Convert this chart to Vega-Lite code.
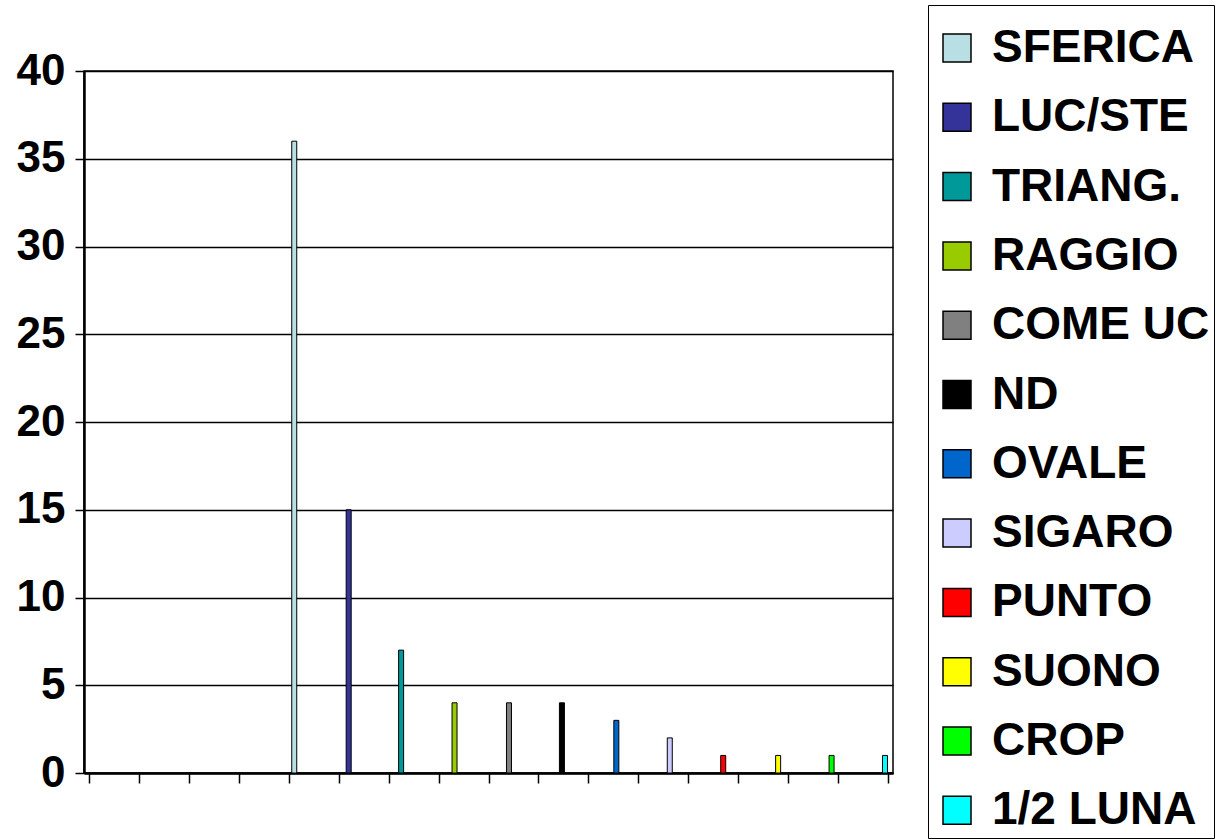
{
  "$schema": "https://vega.github.io/schema/vega-lite/v6.json",
  "width": 809,
  "height": 702,
  "autosize": {"type": "none"},
  "padding": {"left": 84, "top": 71, "right": 328, "bottom": 66},
  "background": "white",
  "config": {
    "font": "Liberation Sans",
    "view": {"stroke": "black", "strokeWidth": 1.5},
    "axis": {"domainColor": "black", "tickColor": "black", "gridColor": "black", "labelColor": "black"},
    "legend": {"strokeColor": "black", "fillColor": "white"}
  },
  "data": {
    "values": [
      {"forma": "SFERICA", "pos": 4.11, "n": 36},
      {"forma": "LUC/STE", "pos": 5.2, "n": 15},
      {"forma": "TRIANG.", "pos": 6.25, "n": 7},
      {"forma": "RAGGIO", "pos": 7.32, "n": 4},
      {"forma": "COME UC", "pos": 8.41, "n": 4},
      {"forma": "ND", "pos": 9.47, "n": 4},
      {"forma": "OVALE", "pos": 10.56, "n": 3},
      {"forma": "SIGARO", "pos": 11.63, "n": 2},
      {"forma": "PUNTO", "pos": 12.7, "n": 1},
      {"forma": "SUONO", "pos": 13.8, "n": 1},
      {"forma": "CROP", "pos": 14.87, "n": 1},
      {"forma": "1/2 LUNA", "pos": 15.94, "n": 1}
    ]
  },
  "mark": {"type": "bar", "width": 5, "stroke": "black", "strokeWidth": 1},
  "encoding": {
    "x": {
      "field": "pos", "type": "quantitative",
      "scale": {"domain": [0, 16], "nice": false, "zero": false},
      "axis": {
        "title": null, "labels": false, "grid": false,
        "values": [0,1,2,3,4,5,6,7,8,9,10,11,12,13,14,15,16],
        "tickSize": 10, "tickWidth": 1.5, "domainWidth": 2.5
      }
    },
    "y": {
      "field": "n", "type": "quantitative",
      "scale": {"domain": [0, 40], "nice": false},
      "axis": {
        "title": null, "values": [0,5,10,15,20,25,30,35,40],
        "grid": true, "gridWidth": 1.5, "tickSize": 9, "tickWidth": 1.5, "domainWidth": 2.5,
        "labelFontSize": 44, "labelFontWeight": "bold", "labelPadding": 10
      }
    },
    "color": {
      "field": "forma", "type": "nominal",
      "scale": {
        "domain": ["SFERICA","LUC/STE","TRIANG.","RAGGIO","COME UC","ND","OVALE","SIGARO","PUNTO","SUONO","CROP","1/2 LUNA"],
        "range": ["#B8E0E4","#333399","#009999","#99CC00","#808080","#000000","#0066CC","#CCCCFF","#FF0000","#FFFF00","#00FF00","#00FFFF"]
      },
      "legend": {
        "title": " ",
        "titleFontSize": 12,
        "titlePadding": 4,
        "orient": "none",
        "legendX": 844,
        "legendY": -66,
        "padding": 4,
        "symbolType": "square",
        "symbolSize": 784,
        "symbolOffset": 2,
        "symbolStrokeColor": "black",
        "symbolStrokeWidth": 1.5,
        "symbolOpacity": 1,
        "labelFontSize": 46,
        "labelFontWeight": "bold",
        "labelColor": "black",
        "labelOffset": 12,
        "labelLimit": 400,
        "rowPadding": 23.3
      }
    }
  }
}
